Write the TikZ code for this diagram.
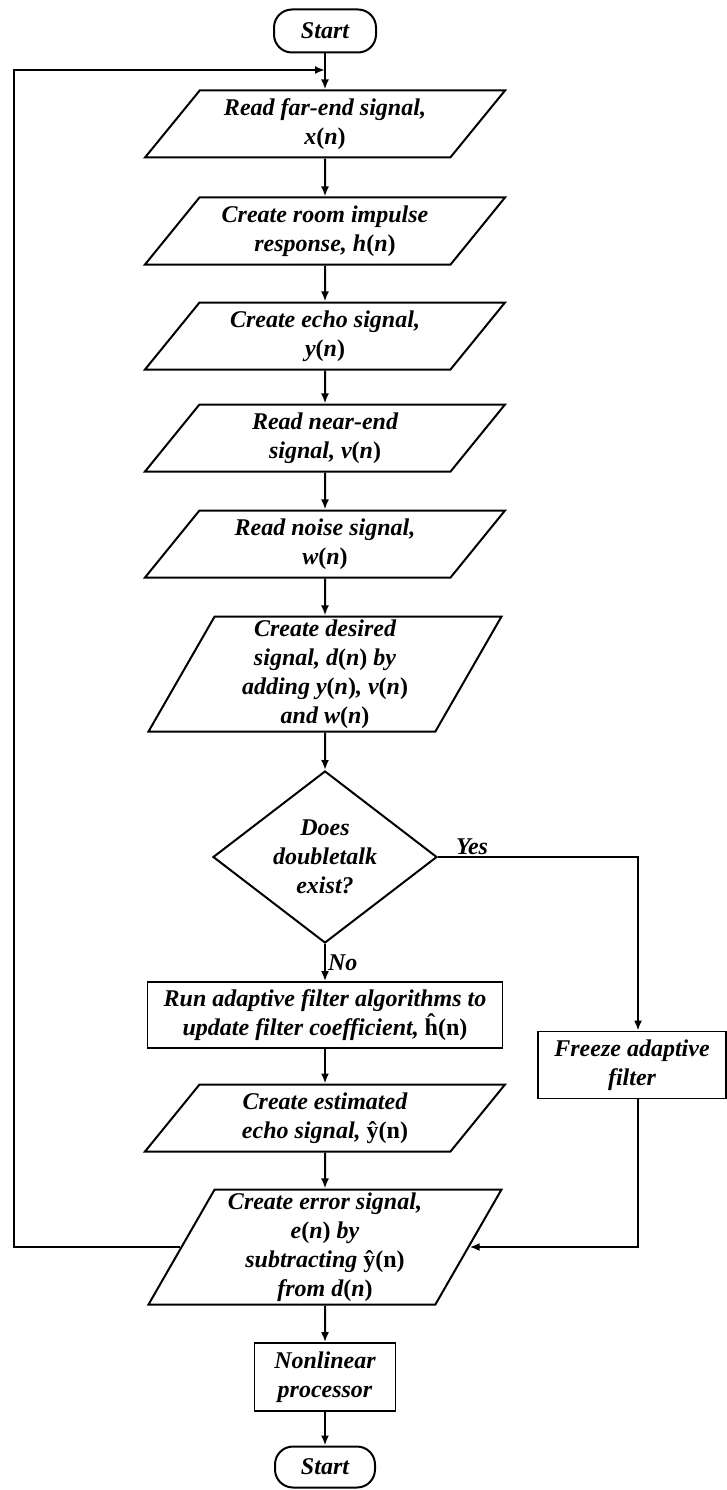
\documentclass[tikz,border=0pt]{standalone}
\usepackage{fontspec}
\setmainfont{Liberation Serif}
\usetikzlibrary{arrows.meta,shapes.geometric,positioning}
\newcommand{\sig}[1]{#1{\upshape(}n{\upshape)}}

\begin{document}
\begin{tikzpicture}[x=1pt,y=-1pt,>={Latex[length=10pt,width=8pt]},
  every node/.style={font=\fontsize{24}{29}\selectfont\bfseries\itshape,align=center},
  line/.style={line width=2pt},
  term/.style={draw,line width=2pt,rounded corners=18pt,minimum width=102pt,minimum height=43pt,inner sep=0pt},
  io/.style={draw,line width=2pt,trapezium,trapezium left angle=43,trapezium right angle=137,
    trapezium stretches body,minimum width=360pt,minimum height=67pt,inner sep=0pt},
  iotall/.style={io,trapezium left angle=58.7,trapezium right angle=121.3,minimum width=353pt,minimum height=115pt},
  proc/.style={draw,line width=1.8pt,inner sep=0pt},
  decision/.style={draw,line width=2pt,diamond,aspect=1.3,minimum width=224pt,minimum height=172pt,inner sep=0pt}]
  \useasboundingbox (0,0) rectangle (727,1490);

  % main column
  \node[term] (start) at (325,31) {Start};
  \node[io] (p1) at (325,124) {Read far-end signal,\\\sig{x}};
  \node[io] (p2) at (325,231) {Create room impulse\\response, \sig{h}};
  \node[io] (p3) at (325,336) {Create echo signal,\\\sig{y}};
  \node[io] (p4) at (325,438) {Read near-end\\signal, \sig{v}};
  \node[io] (p5) at (325,544) {Read noise signal,\\\sig{w}};
  \node[iotall] (p6) at (325,674) {Create desired\\signal, \sig{d} by\\adding \sig{y}, \sig{v}\\and \sig{w}};
  \node[decision] (dt) at (325,857) {Does\\doubletalk\\exist?};
  \node[proc,minimum width=355pt,minimum height=66pt] (run) at (325,1015) {Run adaptive filter algorithms to\\update filter coefficient, {\upshape ĥ(n)}};
  \node[io] (est) at (325,1118) {Create estimated\\echo signal, {\upshape ŷ(n)}};
  \node[iotall] (err) at (325,1247) {Create error signal,\\\sig{e} by\\subtracting {\upshape ŷ(n)}\\from \sig{d}};
  \node[proc,minimum width=141pt,minimum height=68pt] (nlp) at (325,1377) {Nonlinear\\processor};
  \node[term,minimum width=100pt,minimum height=41pt] (stop) at (325,1467) {Start};

  % side branch
  \node[proc,minimum width=188pt,minimum height=67pt] (frz) at (632,1065) {Freeze adaptive\\filter};
  \coordinate (yc) at (638,857);
  \coordinate (lp) at (14,1247);
  \coordinate (join) at (325,70);

  \draw[line,->] (start) -- (p1);
  \foreach \a/\b in {p1/p2,p2/p3,p3/p4,p4/p5,p5/p6,p6/dt,run/est,est/err,err/nlp,nlp/stop}
    \draw[line,->] (\a) -- (\b);
  \draw[line,->] (dt) -- node[right,inner sep=2pt] {No} (run);
  \draw[line,->] (dt.east) -- node[pos=0.17,above,inner sep=1pt] {Yes} (yc) -- (yc |- frz.north);
  \draw[line,->] (yc |- frz.south) -- (yc |- err.right side) -- (err.right side);
  \draw[line,->] (err.left side) -- (err.left side -| lp) |- (join);
\end{tikzpicture}
\end{document}
